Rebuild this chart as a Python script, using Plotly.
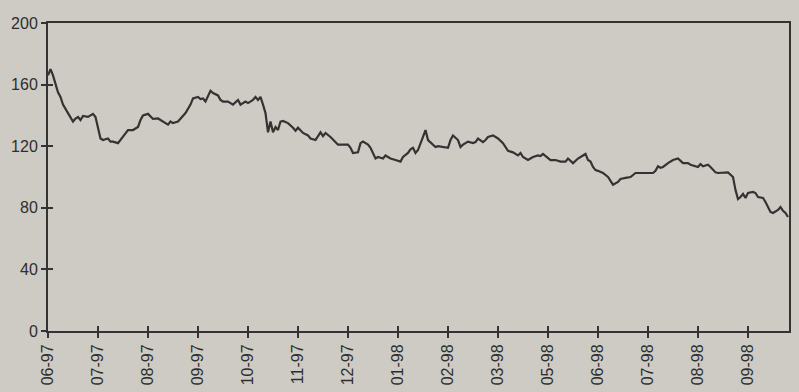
import plotly.graph_objects as go

# Trading-day index and index level
day = [0, 1, 2, 3, 4, 5, 6, 8, 10, 11, 12, 13, 14, 16, 18, 19, 20, 21, 22, 24,
       25, 26, 28, 29, 31, 32, 34, 36, 37, 38, 40, 42, 44, 46, 48, 49, 50, 52, 53, 55,
       57, 58, 60, 61, 62, 63, 65, 66, 68, 69, 70, 72, 73, 74, 76, 77, 79, 80, 82, 83,
       84, 85, 86, 87, 88, 89, 90, 91, 92, 93, 94, 96, 98, 99, 100, 102, 104, 105, 107, 109,
       110, 111, 113, 115, 116, 118, 120, 121, 122, 124, 125, 126, 128, 129, 130, 131, 132, 134, 135, 136,
       137, 139, 141, 142, 144, 145, 146, 147, 148, 150, 151, 152, 154, 155, 156, 158, 159, 160, 161, 162,
       164, 165, 166, 168, 170, 171, 172, 174, 175, 176, 178, 180, 182, 184, 186, 188, 189, 190, 192, 194,
       196, 197, 198, 200, 201, 203, 205, 207, 208, 210, 212, 214, 215, 216, 217, 218, 219, 220, 222, 224,
       225, 226, 228, 229, 231, 233, 235, 237, 239, 242, 243, 244, 245, 246, 248, 249, 250, 252, 254, 256,
       257, 260, 261, 262, 264, 265, 267, 268, 271, 272, 274, 275, 276, 277, 278, 279, 280, 282, 283, 284,
       286, 287, 289, 290, 292, 293, 294, 295, 296]
level = [166, 170, 166, 161, 155, 152, 147, 141.5, 136, 138, 139, 137, 139.6, 139, 141, 139, 132.5, 125, 124, 125,
         123, 123, 122, 124, 128.6, 130.5, 130.5, 132.5, 137, 140, 141, 137.7, 138, 136, 134, 136, 135, 136, 138, 141.5,
         147, 151, 152, 150.6, 151, 149, 156, 154.5, 153, 150, 149, 149, 148, 147, 150, 147, 149, 148, 150, 152,
         150, 152, 147, 141.5, 129, 136, 129, 132.5, 130.5, 136, 136.4, 135, 132, 130, 132, 128.6, 127, 125, 124, 129,
         126.6, 128.6, 126, 122.7, 121, 121, 121, 119, 115.6, 116, 122, 123, 121, 119, 115.6, 112, 113, 112, 114, 113,
         112, 111, 110, 113, 115.6, 118, 119, 115.6, 117.5, 126, 130.5, 124, 121, 119.5, 120, 119.5, 119.5, 119, 124, 127,
         124, 119.5, 121, 123, 122, 122.7, 125, 122.7, 124, 126, 127, 125, 122, 117, 116, 114, 115.6, 113, 111, 113,
         114, 113.6, 115, 112, 111, 111, 110, 110, 112, 109, 112, 114, 115, 111, 110, 106.5, 104.5, 104, 102.6, 100,
         97.4, 95, 96.8, 98.7, 99.4, 100, 102.6, 102.6, 102.6, 102.6, 104, 107, 106, 106.5, 109, 110, 111, 112, 109, 109,
         108, 106.5, 108.4, 107, 108, 106.5, 103, 102.6, 102.6, 103, 100, 91.5, 85.7, 87, 89, 86.4, 89.6, 90.3, 89.6, 87,
         86.4, 83.8, 77.3, 76.6, 78.6, 80.5, 78, 76.6, 74]

tick_days = [0, 20, 40, 60, 80, 100, 120, 140, 160, 180, 200, 220, 240, 260, 280]
tick_labels = ["06-97", "07-97", "08-97", "09-97", "10-97", "11-97", "12-97", "01-98",
               "02-98", "03-98", "05-98", "06-98", "07-98", "08-98", "09-98"]
y_ticks = [0, 40, 80, 120, 160, 200]

BG = "#cdcbc3"
INK = "#333333"
X_RANGE = [0, 296.4]
Y_RANGE = [0, 200]

fig = go.Figure()
fig.add_trace(go.Scatter(x=day, y=level, mode="lines",
                         line=dict(color=INK, width=2.2), showlegend=False,
                         hoverinfo="skip"))
# second pair of axes only carries the inward half of the crossing ticks
fig.add_trace(go.Scatter(x=[None], y=[None], xaxis="x2", yaxis="y2",
                         mode="lines", showlegend=False, hoverinfo="skip"))

font = dict(family="Liberation Sans, Arial, sans-serif", size=16, color="#2e2e2e")

fig.update_layout(
    width=799, height=392,
    margin=dict(l=48, r=10, t=23, b=61, autoexpand=False),
    paper_bgcolor=BG, plot_bgcolor=BG,
    font=font,
    xaxis=dict(range=X_RANGE, tickmode="array", tickvals=tick_days, ticktext=tick_labels,
               tickangle=-90, ticks="outside", ticklen=5, tickwidth=1.5, tickcolor=INK,
               showline=True, linecolor=INK, linewidth=2, mirror=True, automargin=False,
               showgrid=False, zeroline=False, tickfont=font),
    yaxis=dict(range=Y_RANGE, tickmode="array", tickvals=y_ticks,
               ticks="outside", ticklen=5, tickwidth=1.5, tickcolor=INK,
               showline=True, linecolor=INK, linewidth=2, mirror=True, automargin=False,
               showgrid=False, zeroline=False, tickfont=font),
    xaxis2=dict(range=X_RANGE, overlaying="x", tickmode="array", tickvals=tick_days,
                ticks="inside", ticklen=5, tickwidth=1.5, tickcolor=INK, automargin=False,
                showticklabels=False, showline=False, showgrid=False, zeroline=False),
    yaxis2=dict(range=Y_RANGE, overlaying="y", tickmode="array", tickvals=y_ticks,
                ticks="inside", ticklen=5, tickwidth=1.5, tickcolor=INK, automargin=False,
                showticklabels=False, showline=False, showgrid=False, zeroline=False),
)

fig.write_html("out.html")
